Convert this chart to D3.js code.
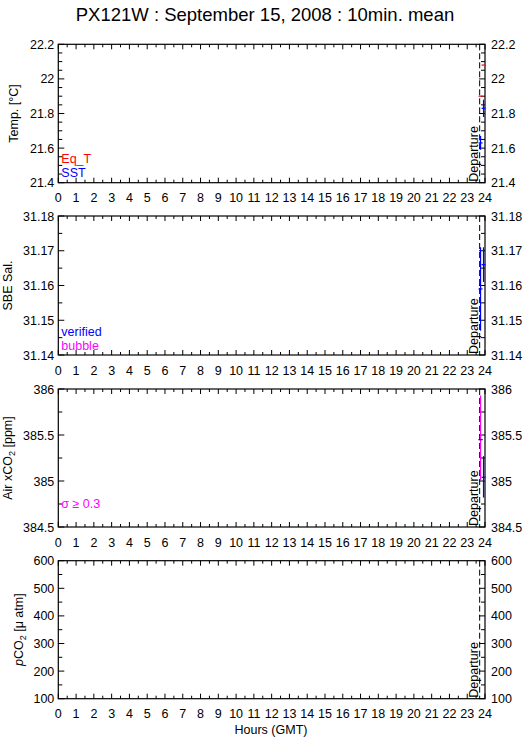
<!DOCTYPE html>
<html><head><meta charset="utf-8">
<script src="https://cdn.jsdelivr.net/npm/d3@7"></script>
<style>body{margin:0;background:#fff}svg{display:block}text{font-family:"Liberation Sans",Arial,sans-serif}</style>
</head><body><svg id="c" width="529" height="739"></svg>
<script>
const title = "PX121W : September 15, 2008 : 10min. mean";
const hourTicks = d3.range(0, 25);
const departureHour = 23.7;
// Panel 1: temperature
const eqT = [{h: 23.75, v: 21.90, lo: 21.90, hi: 21.90}, {h: 23.917, v: 22.08, lo: 22.08, hi: 22.08}];
const sst = [{h: 23.75, v: 21.63, lo: 21.59, hi: 21.67}, {h: 23.917, v: 21.83, lo: 21.78, hi: 21.88}];
// Panel 2: salinity
const salVerified = [{h: 23.75, v: 31.159, lo: 31.147, hi: 31.171}, {h: 23.917, v: 31.166, lo: 31.161, hi: 31.171}];
// Panel 3: air xCO2
const airSigma = [{h: 23.75, v: 385.45, lo: 385.01, hi: 385.93}];
const airVerified = [{h: 23.75, v: 385.45, lo: 385.45, hi: 385.45}, {h: 23.917, v: 385.04, lo: 384.82, hi: 385.27}];
const tempTicks = [21.4, 21.6, 21.8, 22, 22.2];
const salTicks = [31.14, 31.15, 31.16, 31.17, 31.18];
const airTicks = [384.5, 385, 385.5, 386];
const pco2Ticks = [100, 200, 300, 400, 500, 600];

const svg = d3.select("#c");
const X0 = 58.3, X1 = 485;
const x = d3.scaleLinear().domain([0, 24]).range([X0, X1]);

svg.append("text").attr("x", 265).attr("y", 21).attr("text-anchor", "middle")
  .attr("font-size", 18.5).text(title);

const panels = [
  {top: 44.3, bot: 182.7, dom: [21.4, 22.2], ticks: tempTicks, minor: 0.05, fmt: d => d3.format("")(d), lx: 18,
   label: [{t: "Temp. [°C]"}], legend: [{t: "Eq_T", c: "#ff0000"}, {t: "SST", c: "#0000ff"}],
   series: [{d: sst, c: "#0000ff"}, {d: eqT, c: "#ff0000"}]},
  {top: 216, bot: 355, dom: [31.14, 31.18], ticks: salTicks, minor: 0.005, fmt: d => d.toFixed(2), lx: 12,
   label: [{t: "SBE Sal."}], legend: [{t: "verified", c: "#0000ff"}, {t: "bubble", c: "#ff00ff"}],
   series: [{d: salVerified, c: "#0000ff"}]},
  {top: 389, bot: 527, dom: [384.5, 386], ticks: airTicks, minor: 0.25, fmt: d => String(d), lx: 12,
   label: [{t: "Air xCO"}, {t: "2", sub: true}, {t: " [ppm]"}], legend: [{t: "σ ≥ 0.3", c: "#ff00ff"}],
   series: [{d: airSigma, c: "#ff00ff"}, {d: airVerified, c: "#0000ff"}]},
  {top: 560.7, bot: 698.7, dom: [100, 600], ticks: pco2Ticks, minor: 50, fmt: d => String(d), lx: 22.5,
   label: [{t: "p", it: true}, {t: "CO"}, {t: "2", sub: true}, {t: " [μ atm]"}], legend: [],
   series: []}
];

panels.forEach(p => {
  const g = svg.append("g");
  const y = d3.scaleLinear().domain(p.dom).range([p.bot, p.top]);
  g.append("rect").attr("x", X0).attr("y", p.top).attr("width", X1 - X0).attr("height", p.bot - p.top)
    .attr("fill", "none").attr("stroke", "#000").attr("stroke-width", 1.2);
  const minorX = d3.range(0, 24.01, 0.5);
  minorX.forEach(h => {
    const len = Number.isInteger(h) ? 5 : 3;
    g.append("line").attr("x1", x(h)).attr("x2", x(h)).attr("y1", p.bot).attr("y2", p.bot - len).attr("stroke", "#000");
    g.append("line").attr("x1", x(h)).attr("x2", x(h)).attr("y1", p.top).attr("y2", p.top + len).attr("stroke", "#000");
  });
  hourTicks.forEach(h => {
    g.append("text").attr("x", x(h)).attr("y", p.bot + 19.5).attr("text-anchor", "middle")
      .attr("font-size", 12.5).text(h);
  });
  const nMin = Math.round((p.dom[1] - p.dom[0]) / p.minor);
  d3.range(0, nMin + 1).map(i => p.dom[0] + i * p.minor).forEach(v => {
    const major = p.ticks.some(t => Math.abs(t - v) < p.minor / 10);
    const len = major ? 6 : 4;
    g.append("line").attr("x1", X0).attr("x2", X0 + len).attr("y1", y(v)).attr("y2", y(v)).attr("stroke", "#000");
    g.append("line").attr("x1", X1).attr("x2", X1 - len).attr("y1", y(v)).attr("y2", y(v)).attr("stroke", "#000");
  });
  p.ticks.forEach(v => {
    g.append("text").attr("x", X0 - 4).attr("y", y(v) + 4.5).attr("text-anchor", "end")
      .attr("font-size", 12.5).text(p.fmt(v));
    g.append("text").attr("x", X1 + 6).attr("y", y(v) + 4.5).attr("text-anchor", "start")
      .attr("font-size", 12.5).text(p.fmt(v));
  });
  const lbl = g.append("text").attr("transform", `translate(${p.lx},${(p.top + p.bot) / 2}) rotate(-90)`)
    .attr("text-anchor", "middle").attr("font-size", 12.5);
  p.label.forEach((s, i) => {
    const ts = lbl.append("tspan").text(s.t);
    if (s.sub) ts.attr("font-size", 9).attr("dy", 3);
    else if (i > 0 && p.label[i - 1].sub) ts.attr("dy", -3);
    if (s.it) ts.attr("font-style", "italic");
  });
  g.append("line").attr("x1", x(departureHour)).attr("x2", x(departureHour))
    .attr("y1", p.top).attr("y2", p.bot).attr("stroke", "#000").attr("stroke-dasharray", "6,3");
  g.append("text").attr("transform", `translate(${x(departureHour) - 1.5},${p.bot - 1}) rotate(-90)`)
    .attr("font-size", 12.5).text("Departure");
  p.series.forEach(s => {
    s.d.forEach(d => {
      g.append("line").attr("x1", x(d.h)).attr("x2", x(d.h)).attr("y1", y(d.lo)).attr("y2", y(d.hi))
        .attr("stroke", s.c).attr("stroke-width", 1.2);
      g.append("line").attr("x1", x(d.h) - 2).attr("x2", x(d.h) + 2).attr("y1", y(d.v)).attr("y2", y(d.v))
        .attr("stroke", s.c).attr("stroke-width", 1.2);
    });
  });
  p.legend.forEach((l, i) => {
    g.append("text").attr("x", X0 + 3).attr("y", p.bot - 19.5 + i * 14)
      .attr("fill", l.c).attr("font-size", 12.5).text(l.t);
  });
});

svg.append("text").attr("x", 271).attr("y", 734).attr("text-anchor", "middle").attr("font-size", 12.5).text("Hours (GMT)");
</script></body></html>
